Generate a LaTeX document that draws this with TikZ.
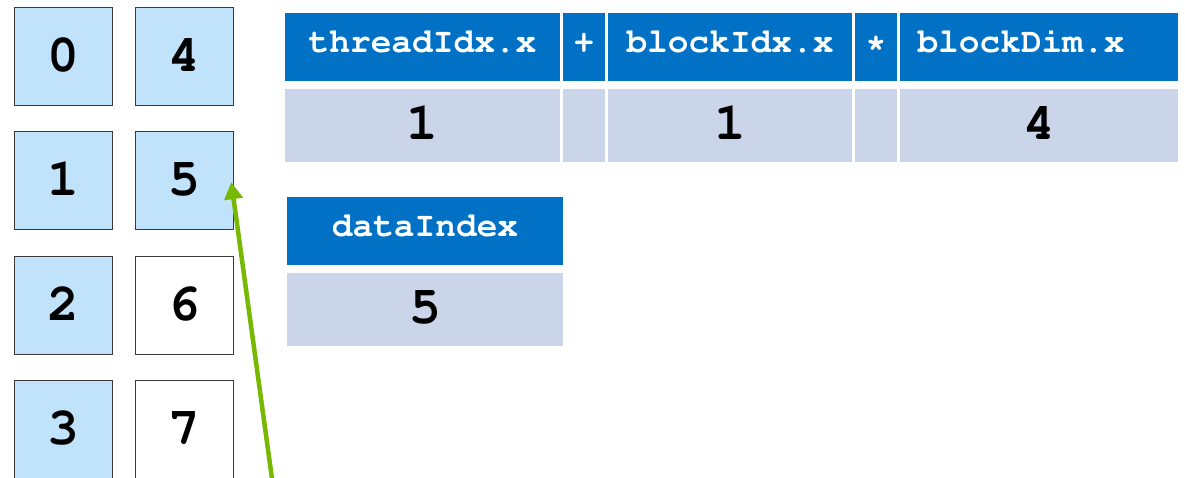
\documentclass[tikz,border=0pt]{standalone}
\usepackage[T1]{fontenc}
\usetikzlibrary{arrows.meta}
\definecolor{hdr}{HTML}{0071C5}
\definecolor{val}{HTML}{CAD5EA}
\definecolor{lb}{HTML}{C0E2FB}
\definecolor{nvgreen}{HTML}{76B900}
\definecolor{bord}{HTML}{3A3A3A}
\newcommand{\cour}{\fontencoding{T1}\fontfamily{pcr}\fontseries{b}}
\begin{document}
\begin{tikzpicture}[x=1pt,y=-1pt,
  cell/.style={anchor=north west, inner sep=0pt, outer sep=0pt},
  hcell/.style={cell, fill=hdr, text=white, minimum height=68pt,
    text height=11pt, text depth=0pt,
    font=\cour\fontsize{34.5}{40}\selectfont},
  vcell/.style={cell, fill=val, text=black, minimum height=73pt,
    text height=28pt, text depth=0pt,
    font=\cour\fontsize{53}{60}\selectfont},
  idx/.style={anchor=north west, draw=bord, line width=1.3pt, minimum width=98pt,
    minimum height=98pt, inner sep=0pt, text height=30pt, text depth=0pt,
    font=\cour\fontsize{53}{60}\selectfont},
  on/.style={idx, fill=lb},
  off/.style={idx, fill=white},
  link/.style={draw=nvgreen, line width=4.5pt, -{Triangle[length=17pt,width=18pt]}}
]
\useasboundingbox (0,0) rectangle (1185,478);
\clip (0,0) rectangle (1185,478);
\fill[white] (0,0) rectangle (1185,478);

% index boxes
\node[on]  (b0) at (14,7)   {0};
\node[on]  (b1) at (14,131) {1};
\node[on]  (b2) at (14,256) {2};
\node[on]  (b3) at (14,380) {3};
\node[on]  (b4) at (135,7)   {4};
\node[on]  (b5) at (135,131) {5};
\node[off] (b6) at (135,256) {6};
\node[off] (b7) at (135,380) {7};

% formula table
\node[hcell, minimum width=275pt] (h1) at (285,13) {threadIdx.x};
\node[hcell, minimum width=42pt]  (h2) at (563,13) {+};
\node[hcell, minimum width=244pt] (h3) at (608,13) {blockIdx.x};
\node[hcell, minimum width=42pt]  (h4) at (855,13) {*};
\node[hcell, minimum width=278pt] (h5) at (900,13) {blockDim.x\hspace*{36pt}};

\node[vcell, minimum width=275pt] (v1) at (285,89) {1};
\node[vcell, minimum width=42pt]  (v2) at (563,89) {};
\node[vcell, minimum width=244pt] (v3) at (608,89) {1};
\node[vcell, minimum width=42pt]  (v4) at (855,89) {};
\node[vcell, minimum width=278pt] (v5) at (900,89) {4};

% dataIndex table
\node[hcell, minimum width=276pt] (dh) at (287,197) {dataIndex};
\node[vcell, minimum width=276pt] (dv) at (287,273) {5};

% arrow
\coordinate (start) at (273,486);
\draw[link] (start) -- ([xshift=-3pt,yshift=-1.5pt]b5.east);
\end{tikzpicture}
\end{document}
